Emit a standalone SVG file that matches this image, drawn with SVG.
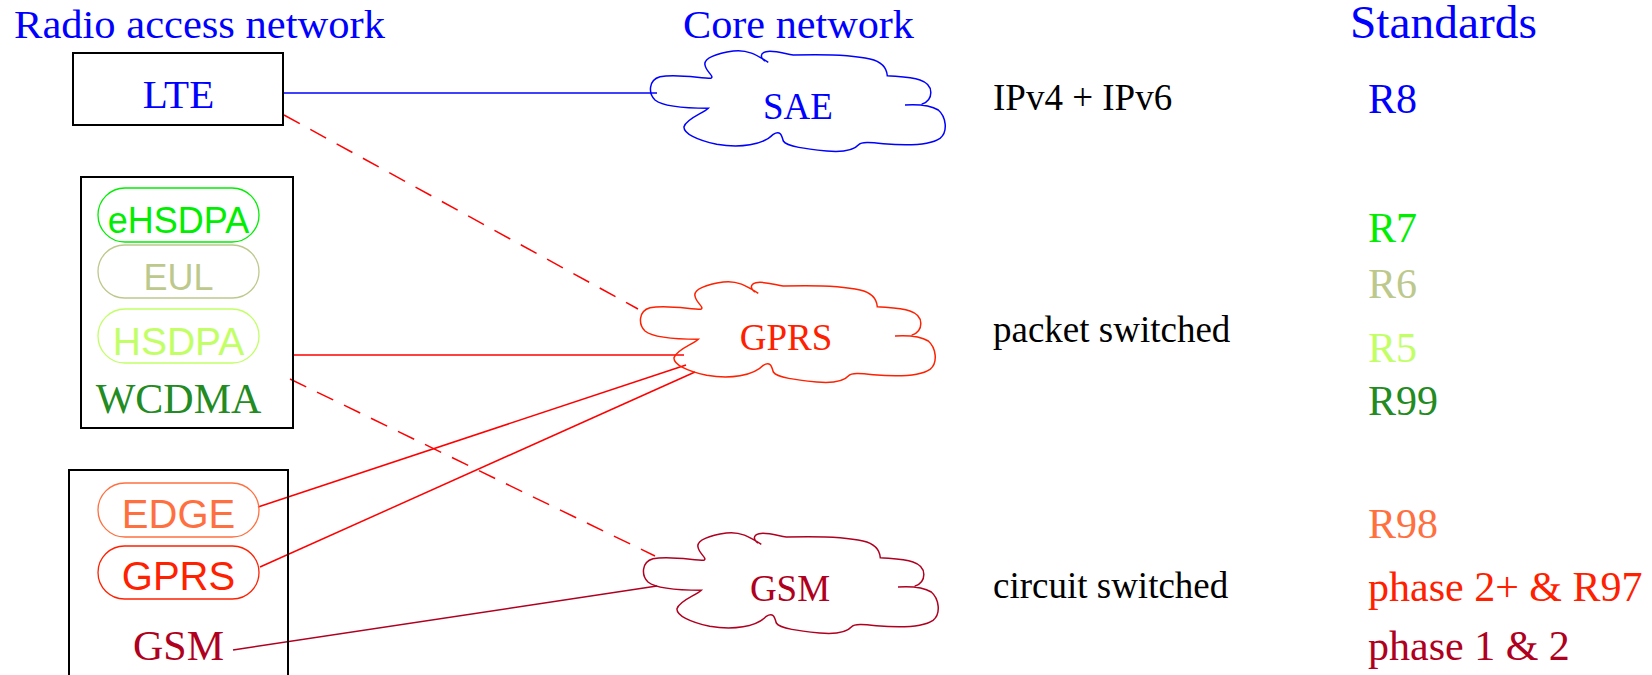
<svg xmlns="http://www.w3.org/2000/svg" xmlns:xlink="http://www.w3.org/1999/xlink" width="1652" height="675" viewBox="0 0 1652 675">
<style>
.serif{font-family:"Liberation Serif","Times New Roman",serif}
.sans{font-family:"Liberation Sans",Arial,sans-serif}
.title{font-size:41px;fill:#0000ff}
.box{fill:none;stroke:#000;stroke-width:2}
.pill{fill:none;stroke-width:1.3}
.cloud{fill:none;stroke-width:1.5}
.std{font-size:42px}
.note{font-size:37px;fill:#000}
.conn{fill:none;stroke-width:1.5}
.dash{stroke-dasharray:18 12}
</style>
<defs>
<path id="cloud" d="M 128.3,17.3 C 116.7,10 106.7,4 93.3,6 C 76.7,8.3 63.3,13.3 65,20 C 66,26.7 75,31.7 70.7,33.3 C 60,33.3 36.7,28.3 20,31.7 C 8.3,35 8.3,48.3 15,55 C 23.3,61.7 43.3,63.3 68.3,63.3 C 63.3,68.3 46.7,73.3 44,81.7 C 43.3,88.3 56.7,95 76.7,99.3 C 100,103.3 123.3,100 133.3,89.3 C 140,85 141.7,90 143.3,96 C 146.7,101.7 166.7,104 186.7,106 C 203.3,107.3 213.3,106 218.3,100 C 221.7,96.7 230,97.3 243.3,98.7 C 266.7,100.7 290,100 300,93.3 C 308.3,86.7 306,71.7 298.3,65 C 290,60 276.7,59.3 265,60 M 281.7,59.3 C 293.3,55 295,40 280,35 C 270,31.7 256.7,31.7 247.3,30.7 C 246.7,23.3 241.7,16.7 230,14 C 210,9.3 176.7,9.3 153.3,10 C 143.3,8.3 133.3,5 126,6.7 C 120,8.3 120,12.7 125,16"/>
</defs>

<g id="headers">
<text class="serif title" x="14" y="38" textLength="371" lengthAdjust="spacingAndGlyphs">Radio access network</text>
<text class="serif title" x="683" y="38" textLength="231" lengthAdjust="spacingAndGlyphs">Core network</text>
<text class="serif title" x="1350" y="38" style="font-size:46px" textLength="187" lengthAdjust="spacingAndGlyphs">Standards</text>
</g>

<g id="connectors">
<line class="conn" x1="283" y1="93" x2="657" y2="93" stroke="#0000ff" stroke-width="2"/>
<line class="conn dash" x1="284" y1="115" x2="638" y2="309" stroke="#ff0000"/>
<line class="conn" x1="293" y1="355" x2="684" y2="355" stroke="#ff0000" stroke-width="2"/>
<line class="conn dash" x1="290" y1="379" x2="655" y2="556" stroke="#ff0000"/>
<line class="conn" x1="258" y1="507" x2="686" y2="365" stroke="#ff0000"/>
<line class="conn" x1="260" y1="567" x2="695" y2="372" stroke="#ff0000"/>
<line class="conn" x1="233" y1="650" x2="657" y2="586" stroke="#b00020"/>
</g>

<g id="lte">
<rect class="box" x="73" y="53" width="210" height="72"/>
<text class="serif" x="178.5" y="108" text-anchor="middle" style="font-size:41px;fill:#0000ff">LTE</text>
</g>

<g id="wcdma-box">
<rect class="box" x="81" y="177" width="212" height="251"/>
<g id="ehsdpa">
<rect class="pill" x="98" y="188" width="161" height="54" rx="27" stroke="#00ee00"/>
<text class="sans" x="178.5" y="233" text-anchor="middle" style="font-size:36px;fill:#00ee00">eHSDPA</text>
</g>
<g id="eul">
<rect class="pill" x="98" y="245" width="161" height="53" rx="26.5" stroke="#bdc98c"/>
<text class="sans" x="178.5" y="290" text-anchor="middle" style="font-size:36px;fill:#bdc98c">EUL</text>
</g>
<g id="hsdpa">
<rect class="pill" x="98" y="309" width="161" height="54" rx="27" stroke="#c2ff66"/>
<text class="sans" x="178.5" y="355" text-anchor="middle" style="font-size:39px;fill:#c2ff66">HSDPA</text>
</g>
<text id="wcdma" class="serif" x="178.5" y="413" text-anchor="middle" style="font-size:42px;fill:#228b22">WCDMA</text>
</g>

<g id="gsm-box">
<rect class="box" x="69" y="470" width="219" height="220"/>
<g id="edge">
<rect class="pill" x="98" y="483" width="161" height="54" rx="27" stroke="#ff7040"/>
<text class="sans" x="178.5" y="528" text-anchor="middle" style="font-size:40px;fill:#ff7040">EDGE</text>
</g>
<g id="gprs-ran">
<rect class="pill" x="98" y="546" width="161" height="53" rx="26.5" stroke="#ff2000"/>
<text class="sans" x="178.5" y="590" text-anchor="middle" style="font-size:40px;fill:#ff2000">GPRS</text>
</g>
<text id="gsm-ran" class="serif" x="178.5" y="660" text-anchor="middle" style="font-size:42px;fill:#b00020">GSM</text>
</g>

<g id="sae">
<use xlink:href="#cloud" class="cloud" transform="translate(640,45)" stroke="#0000ff"/>
<text class="serif" x="798" y="119" text-anchor="middle" style="font-size:37px;fill:#0000ff">SAE</text>
</g>
<g id="gprs-core">
<use xlink:href="#cloud" class="cloud" transform="translate(630,276)" stroke="#ff2000"/>
<text class="serif" x="786" y="350" text-anchor="middle" style="font-size:37px;fill:#ff2000">GPRS</text>
</g>
<g id="gsm-core">
<use xlink:href="#cloud" class="cloud" transform="translate(633,527)" stroke="#b00020"/>
<text class="serif" x="790" y="601" text-anchor="middle" style="font-size:37px;fill:#b00020">GSM</text>
</g>

<g id="notes">
<text class="serif note" x="993" y="110">IPv4 + IPv6</text>
<text class="serif note" x="993" y="342">packet switched</text>
<text class="serif note" x="993" y="598">circuit switched</text>
</g>

<g id="standards">
<text class="serif std" x="1368" y="113" fill="#0000ff">R8</text>
<text class="serif std" x="1368" y="242" fill="#00ee00">R7</text>
<text class="serif std" x="1368" y="298" fill="#bdc98c">R6</text>
<text class="serif std" x="1368" y="362" fill="#c2ff66">R5</text>
<text class="serif std" x="1368" y="415" fill="#228b22">R99</text>
<text class="serif std" x="1368" y="538" fill="#ff7040">R98</text>
<text class="serif std" x="1368" y="601" fill="#ff2000">phase 2+ &amp; R97</text>
<text class="serif std" x="1368" y="660" fill="#b00020">phase 1 &amp; 2</text>
</g>
</svg>
